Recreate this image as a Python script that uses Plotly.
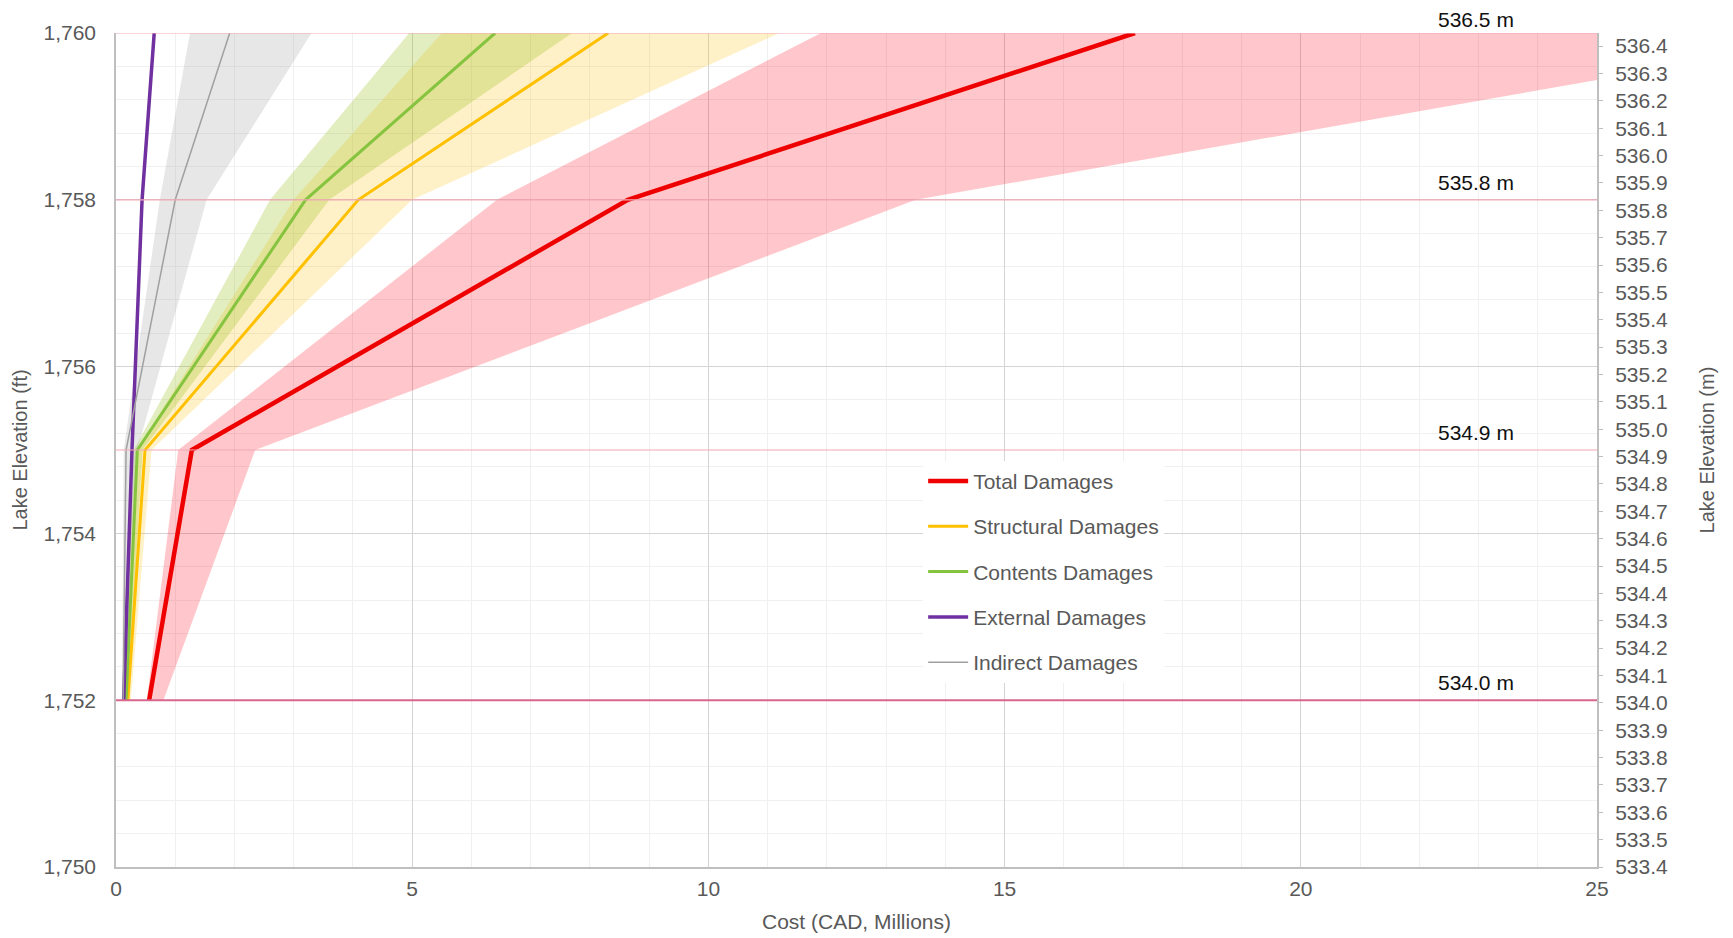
import plotly.graph_objects as go

# lake elevations (ft) where damages were evaluated
elev_ft = [1752, 1755, 1758, 1760]

# central damage estimates (CAD, millions)
total = [0.56, 1.28, 8.64, 17.2]
structural = [0.20, 0.49, 4.09, 8.31]
contents = [0.17, 0.36, 3.20, 6.40]
external = [0.13, 0.27, 0.44, 0.645]
indirect = [0.12, 0.17, 1.00, 1.92]

# uncertainty ranges (low / high)
total_lo = [0.52, 1.05, 6.43, 11.9]
total_hi = [0.80, 2.35, 13.5, 29.5]
structural_lo = [0.15, 0.35, 3.0, 5.5]
structural_hi = [0.25, 0.60, 5.0, 11.2]
contents_lo = [0.13, 0.30, 2.60, 4.95]
contents_hi = [0.20, 0.45, 3.60, 7.70]
indirect_lo = [0.10, 0.13, 0.74, 1.25]
indirect_hi = [0.15, 0.36, 1.53, 3.30]

# reference levels and their labels
ref_ft = [1752, 1755, 1758, 1760]
ref_labels = ["534.0 m", "534.9 m", "535.8 m", "536.5 m"]

FT_TO_M = 0.3048
FONT = "Liberation Sans, Arial, sans-serif"
TXT = "#595959"

fig = go.Figure()


def band(lo, hi, color):
    fig.add_trace(go.Scatter(
        x=lo + hi[::-1], y=elev_ft + elev_ft[::-1],
        fill="toself", fillcolor=color, mode="lines",
        line=dict(width=0), showlegend=False, hoverinfo="skip"))


band(total_lo, total_hi, "rgba(255,0,20,0.22)")
band(structural_lo, structural_hi, "rgba(255,192,0,0.22)")
band(contents_lo, contents_hi, "rgba(150,190,30,0.28)")
band(indirect_lo, indirect_hi, "rgba(160,160,160,0.25)")

series = [
    ("Total Damages", total, "#EE0000", 4.5),
    ("Structural Damages", structural, "#FFC000", 3),
    ("Contents Damages", contents, "#86C440", 3),
    ("External Damages", external, "#7030A0", 3.5),
    ("Indirect Damages", indirect, "#A0A0A0", 1.5),
]
for name, vals, color, w in series:
    fig.add_trace(go.Scatter(
        x=vals, y=elev_ft, mode="lines", name=name, legendgroup=name,
        line=dict(color=color, width=w)))

# metric axis companion (invisible)
fig.add_trace(go.Scatter(
    x=[0] * len(ref_ft), y=[v * FT_TO_M for v in ref_ft], yaxis="y2",
    mode="markers", marker=dict(opacity=0), showlegend=False, hoverinfo="skip"))

for v, lab in zip(ref_ft, ref_labels):
    fig.add_shape(type="line", xref="paper", x0=0, x1=1, yref="y", y0=v, y1=v,
                  line=dict(color="#D9668C" if v == 1752 else "#F2A7B5",
                            width=2 if v == 1752 else 1.2))
    fig.add_annotation(x=22.95, y=v, xref="x", yref="y", text=lab,
                       showarrow=False, yanchor="bottom",
                       yshift=0 if v == max(ref_ft) else 4,
                       font=dict(family=FONT, size=21, color="#111111"))

fig.update_layout(
    width=1733, height=938,
    margin=dict(l=108, r=144, t=25, b=79),
    paper_bgcolor="white", plot_bgcolor="white",
    font=dict(family=FONT, size=21, color=TXT),
    xaxis=dict(
        range=[0, 25], dtick=5, tick0=0, showgrid=True, gridcolor="#D4D4D4",
        gridwidth=1, minor=dict(dtick=1, showgrid=True, gridcolor="#F0F0F0"),
        showline=True, linecolor="#BFBFBF", linewidth=1.5, zeroline=False,
        ticks="", ticklabelstandoff=2, automargin=False,
        title=dict(text="Cost (CAD, Millions)", standoff=15,
                   font=dict(size=21, color=TXT)),
    ),
    yaxis=dict(
        range=[1750, 1760], dtick=2, tick0=1750, tickformat=",d",
        showgrid=True, gridcolor="#D4D4D4", gridwidth=1,
        minor=dict(dtick=0.4, tick0=1750, showgrid=True, gridcolor="#F0F0F0"),
        showline=True, mirror=True, linecolor="#BFBFBF", linewidth=1.5,
        zeroline=False, ticks="", ticklabelstandoff=14, automargin=False,
        title=dict(text="Lake Elevation (ft)", standoff=10,
                   font=dict(size=20, color=TXT)),
    ),
    yaxis2=dict(
        overlaying="y", side="right", range=[533.4, 1760 * FT_TO_M],
        dtick=0.1, tick0=533.4, tickformat=".1f", showgrid=False,
        zeroline=False, ticks="outside", ticklen=5, tickcolor="#BFBFBF",
        ticklabelstandoff=8, automargin=False,
        title=dict(text="Lake Elevation (m)", standoff=32,
                   font=dict(size=20, color=TXT)),
    ),
    legend=dict(
        x=0.545, y=0.487, xanchor="left", yanchor="top",
        bgcolor="white", borderwidth=0, traceorder="grouped",
        tracegroupgap=15, font=dict(family=FONT, size=21, color=TXT),
        itemwidth=40,
    ),
    showlegend=True,
)

fig.write_html("out.html")
